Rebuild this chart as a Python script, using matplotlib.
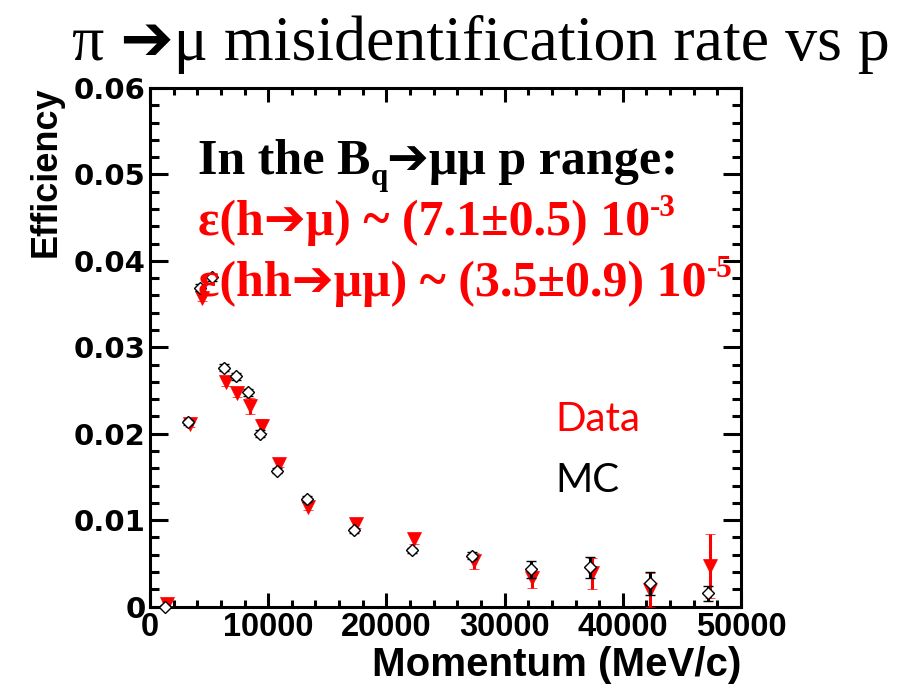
import matplotlib
matplotlib.use("Agg")
import matplotlib.pyplot as plt
from matplotlib.ticker import MultipleLocator, FuncFormatter

# Momentum bins (MeV/c) and pi -> mu misidentification efficiency
mc_p = [1270, 3240, 4230, 5240, 6280, 7270, 8260, 9300, 10760, 13300,
        17240, 22200, 27280, 32230, 37200, 42270, 47200]
mc_eff = [0.0000, 0.0213, 0.0369, 0.0381, 0.02765, 0.02665, 0.0248, 0.0200,
          0.0157, 0.01243, 0.00884, 0.0065, 0.00586, 0.0043, 0.00453,
          0.00268, 0.00153]
mc_err = [0.0002, 0.0003, 0.0004, 0.0004, 0.0004, 0.0004, 0.0004, 0.0004,
          0.0003, 0.0003, 0.0003, 0.0003, 0.0004, 0.0010, 0.00125, 0.0013,
          0.0009]

data_p = [1400, 3380, 4400, 6420, 7380, 8450, 9440, 10930, 13380, 17410,
          22360, 27400, 32350, 37360, 42300, 47340]
data_eff = [0.0003, 0.0211, 0.0357, 0.02595, 0.0247, 0.0232, 0.0209, 0.0165,
            0.01154, 0.00954, 0.00778, 0.00524, 0.0033, 0.00384, 0.0019,
            0.00468]
data_err = [0.0002, 0.0003, 0.0004, 0.0004, 0.0004, 0.0009, 0.0008, 0.0004,
            0.0004, 0.0004, 0.0006, 0.0009, 0.0012, 0.0018, 0.0020, 0.0037]

x_ticks = [0, 10000, 20000, 30000, 40000, 50000]
y_ticks = [0, 0.01, 0.02, 0.03, 0.04, 0.05, 0.06]

W, H = 904, 685
fig = plt.figure(figsize=(W / 100, H / 100), dpi=100)
fig.patch.set_facecolor("white")


def fx(x):
    return x / W


def fy(y):
    return 1 - y / H


ax = fig.add_axes([fx(150), fy(606.5), (741 - 150) / W, (606.5 - 88) / H])
ax.set_xlim(0, 50000)
ax.set_ylim(0, 0.06)

RED = "#ff0000"
ax.errorbar(data_p, data_eff, yerr=data_err, fmt="v", ms=10.0, mfc=RED,
            mec=RED, mew=0.5, ecolor=RED, elinewidth=2.2, capsize=3.5,
            capthick=2.2, clip_on=False, zorder=5)
ax.errorbar(mc_p, mc_eff, yerr=mc_err, fmt="D", ms=6.2, mfc="white",
            mec="black", mew=1.0, ecolor="black", elinewidth=2.2,
            capsize=3.5, capthick=2.2, clip_on=False, zorder=6)

for s in ax.spines.values():
    s.set_linewidth(2.2)

ax.xaxis.set_major_locator(MultipleLocator(10000))
ax.xaxis.set_minor_locator(MultipleLocator(2000))
ax.yaxis.set_major_locator(MultipleLocator(0.01))
ax.yaxis.set_minor_locator(MultipleLocator(0.002))
ax.set_xticks(x_ticks)
ax.set_yticks(y_ticks)
ax.xaxis.set_major_formatter(FuncFormatter(lambda v, p: f"{v:.0f}"))
ax.yaxis.set_major_formatter(
    FuncFormatter(lambda v, p: "0" if abs(v) < 1e-9 else f"{v:.2f}"))

ax.tick_params(axis="x", which="major", direction="in", length=10, width=2.2,
               top=True, bottom=True, pad=4)
ax.tick_params(axis="x", which="minor", direction="in", length=5, width=2.2,
               top=True, bottom=True)
ax.tick_params(axis="y", which="major", direction="in", length=13, width=2.2,
               left=True, right=True, pad=3)
ax.tick_params(axis="y", which="minor", direction="in", length=6.5,
               width=2.2, left=True, right=True)
for lab in ax.get_xticklabels():
    lab.set_fontfamily("Liberation Sans")
    lab.set_fontweight("bold")
    lab.set_fontsize(23.5)
for lab in ax.get_yticklabels():
    lab.set_fontfamily("DejaVu Sans")
    lab.set_fontweight("bold")
    lab.set_fontsize(21)

# Axis titles (ROOT style: placed at the far end of each axis)
fig.text(fx(46), fy(86), "Efficiency", rotation=90, ha="center", va="top",
         fontsize=26, fontweight="bold", family="Liberation Sans")
fig.text(fx(741), fy(676), "Momentum (MeV/c)", ha="right", va="baseline",
         fontsize=29, fontweight="bold", family="Liberation Sans")

# Slide title
SERIF = ["Liberation Serif", "DejaVu Sans"]
fig.text(fx(72), fy(60), "\u03c0 \u2794\u03bc misidentification rate vs p",
         ha="left", va="baseline", fontsize=46, family=SERIF)

renderer = fig.canvas.get_renderer()


def put_runs(x, y, runs, color, size):
    """Write consecutive pieces of text; each piece is (text, scale, shift)."""
    for text, scale, shift in runs:
        t = fig.text(fx(x), fy(y - shift * size * 100 / 72), text,
                     ha="left", va="baseline", fontsize=size * scale,
                     fontweight="bold", family=SERIF, color=color, zorder=3)
        x += t.get_window_extent(renderer).width


TS = 36
put_runs(198, 174, [("In the B", 1, 0), ("q", 0.62, -0.22),
                    ("\u2794\u03bc\u03bc p range:", 1, 0)], "black", TS)
put_runs(198, 235, [("\u03b5(h\u2794\u03bc) ~ (7.1\u00b10.5) 10", 1, 0),
                    ("-3", 0.62, 0.38)], RED, TS)
put_runs(198, 296, [("\u03b5(hh\u2794\u03bc\u03bc) ~ (3.5\u00b10.9) 10", 1, 0),
                    ("-5", 0.62, 0.38)], RED, TS)

# Legend-like labels
fig.text(fx(555), fy(431), "Data", ha="left", va="baseline", fontsize=29,
         family="Lato", color=RED)
fig.text(fx(555), fy(492), "MC", ha="left", va="baseline", fontsize=29,
         family="Lato", color="black")

fig.savefig("out.png", dpi=100)
